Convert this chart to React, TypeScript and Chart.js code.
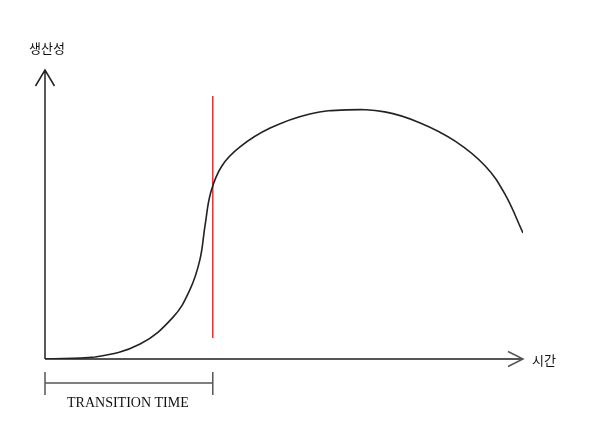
import React, { useEffect, useRef } from "react";
import { Chart, registerables } from "chart.js";

Chart.register(...registerables);

// time (0..100) and productivity (0..100)
const timeValues = [0, 10.5, 19.9, 26.8, 30.3, 32.4, 33.5, 34.7, 37.0, 40.8, 47.1, 55.4, 63.2, 71.1, 78.5, 85.8, 92.1, 96.2, 100];
const productivityValues = [0, 0.7, 5.2, 14.5, 23.9, 34.3, 46.4, 57.8, 66.8, 73.4, 79.9, 84.8, 86.2, 85.5, 81.7, 75.4, 66.8, 57.1, 43.6];

const transitionTime = 35.1;
const markerRange = [7.3, 91.0];

const yAxisLabel = "생산성";
const xAxisLabel = "시간";
const transitionLabel = "TRANSITION TIME";

const decorPlugin = {
  id: "decor",
  beforeDatasetsDraw(chart: any) {
    const ctx = chart.ctx;
    const xs = chart.scales.x;
    const ys = chart.scales.y;
    const x0 = xs.getPixelForValue(0);
    const xEnd = xs.getPixelForValue(100);
    const y0 = ys.getPixelForValue(0);
    const yTop = chart.chartArea.top;
    ctx.save();
    // y axis
    ctx.strokeStyle = "#222";
    ctx.lineWidth = 1.5;
    ctx.beginPath();
    ctx.moveTo(x0, y0);
    ctx.lineTo(x0, yTop);
    ctx.moveTo(x0 - 9.5, yTop + 16);
    ctx.lineTo(x0, yTop);
    ctx.lineTo(x0 + 9.5, yTop + 16);
    ctx.stroke();
    // x axis
    ctx.strokeStyle = "#555";
    ctx.lineWidth = 2;
    ctx.beginPath();
    ctx.moveTo(x0, y0);
    ctx.lineTo(xEnd, y0);
    ctx.stroke();
    ctx.lineWidth = 1.5;
    ctx.beginPath();
    ctx.moveTo(xEnd - 15, y0 - 7.5);
    ctx.lineTo(xEnd, y0);
    ctx.lineTo(xEnd - 15, y0 + 7.5);
    ctx.stroke();
    // bracket
    const xt = xs.getPixelForValue(transitionTime);
    ctx.strokeStyle = "#555";
    ctx.lineWidth = 1.5;
    ctx.beginPath();
    ctx.moveTo(x0, y0 + 13);
    ctx.lineTo(x0, y0 + 36);
    ctx.moveTo(xt, y0 + 13);
    ctx.lineTo(xt, y0 + 36);
    ctx.moveTo(x0, y0 + 24);
    ctx.lineTo(xt, y0 + 24);
    ctx.stroke();
    // texts
    ctx.fillStyle = "#111";
    ctx.textBaseline = "middle";
    ctx.textAlign = "center";
    ctx.font = "14px 'Liberation Serif', serif";
    ctx.fillText(transitionLabel, (x0 + xt) / 2 - 1, y0 + 44);
    ctx.font = "13px 'Noto Sans CJK KR', sans-serif";
    ctx.fillText(yAxisLabel, x0 + 2, yTop - 22);
    ctx.textAlign = "left";
    ctx.fillText(xAxisLabel, xEnd + 9, y0 + 1);
    ctx.restore();
  },
};

export default function App() {
  const ref = useRef<HTMLCanvasElement | null>(null);
  useEffect(() => {
    if (!ref.current) return;
    const chart = new Chart(ref.current, {
      type: "line",
      data: {
        datasets: [
          {
            data: timeValues.map((t, i) => ({ x: t, y: productivityValues[i] })),
            borderColor: "#222",
            borderWidth: 1.6,
            pointRadius: 0,
            fill: false,
            tension: 0.4,
          },
          {
            data: [
              { x: transitionTime, y: markerRange[0] },
              { x: transitionTime, y: markerRange[1] },
            ],
            borderColor: "rgb(232,48,48)",
            borderWidth: 1.5,
            pointRadius: 0,
            fill: false,
          },
        ],
      },
      options: {
        animation: false,
        responsive: false,
        maintainAspectRatio: false,
        layout: { padding: { left: 45, right: 70, top: 70, bottom: 85 } },
        plugins: { legend: { display: false }, tooltip: { enabled: false } },
        scales: {
          x: { type: "linear", min: 0, max: 100, display: false },
          y: { type: "linear", min: 0, max: 100, display: false },
        },
      },
      plugins: [decorPlugin],
    } as any);
    return () => chart.destroy();
  }, []);
  return (
    <div style={{ position: "fixed", left: 0, top: 0, width: 593, height: 444, background: "#fff" }}>
      <canvas ref={ref} width={593} height={444} style={{ width: 593, height: 444, display: "block" }} />
    </div>
  );
}
